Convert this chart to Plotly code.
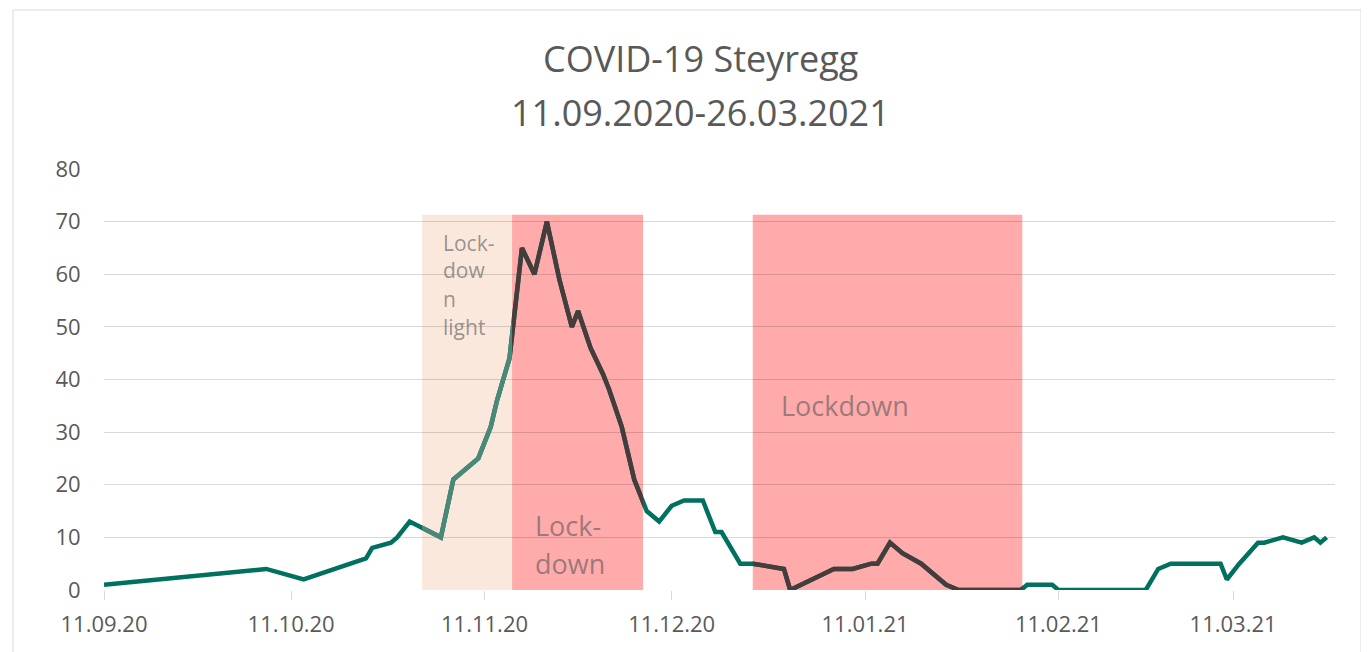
import plotly.graph_objects as go
from datetime import datetime, timedelta

# ---------------- data ----------------
dates = [
    "2020-09-11", "2020-10-07", "2020-10-13", "2020-10-23", "2020-10-24",
    "2020-10-27", "2020-10-28", "2020-10-30", "2020-11-04", "2020-11-06",
    "2020-11-10", "2020-11-12", "2020-11-13", "2020-11-15", "2020-11-17",
    "2020-11-19", "2020-11-21", "2020-11-23", "2020-11-25", "2020-11-26",
    "2020-11-28", "2020-11-30", "2020-12-01", "2020-12-03", "2020-12-05",
    "2020-12-07", "2020-12-09", "2020-12-11", "2020-12-13", "2020-12-16",
    "2020-12-18", "2020-12-19", "2020-12-22", "2020-12-24", "2020-12-29",
    "2020-12-30", "2021-01-06", "2021-01-09", "2021-01-12", "2021-01-13",
    "2021-01-15", "2021-01-17", "2021-01-20", "2021-01-24", "2021-01-26",
    "2021-02-05", "2021-02-06", "2021-02-10", "2021-02-11", "2021-02-25",
    "2021-02-27", "2021-03-01", "2021-03-09", "2021-03-10", "2021-03-12",
    "2021-03-15", "2021-03-16", "2021-03-19", "2021-03-22", "2021-03-24",
    "2021-03-25", "2021-03-26",
]
cases = [
    1, 4, 2, 6, 8,
    9, 10, 13, 10, 21,
    25, 31, 36, 44, 65,
    60, 70, 59, 50, 53,
    46, 41, 38, 31, 21,
    15, 13, 16, 17, 17,
    11, 11, 5, 5, 4,
    0, 4, 4, 5, 5,
    9, 7, 5, 1, 0,
    0, 1, 1, 0, 0,
    4, 5, 5, 2, 5,
    9, 9, 10, 9, 10,
    9, 10,
]

title_lines = ["COVID-19 Steyregg", "11.09.2020-26.03.2021"]
tick_dates = ["2020-09-11", "2020-10-11", "2020-11-11", "2020-12-11",
              "2021-01-11", "2021-02-11", "2021-03-11"]
tick_labels = ["11.09.20", "11.10.20", "11.11.20", "11.12.20",
               "11.01.21", "11.02.21", "11.03.21"]
y_ticks = [0, 10, 20, 30, 40, 50, 60, 70, 80]

light_lockdown = ("2020-11-01 00:00", "2020-11-15 10:00")
lockdowns = [("2020-11-15 10:00", "2020-12-06 10:00"),
             ("2020-12-24 00:00", "2021-02-05 05:00")]
region_top = 71.3

light_label = ["Lock-", "dow", "n", "light"]
lockdown1_label = ["Lock-", "down"]
lockdown2_label = "Lockdown"

# ---------------- styling ----------------
TEAL = "#00705F"
TEAL_LIGHT = "#4A8878"
DARK = "#463C3C"
RED_FILL = "#FFABAB"
PEACH_FILL = "#FBE8DC"
TXT = "#595959"
FONT = "Open Sans"

OFF = 8  # page body margin
W, H = 1369, 652
ML, MT = 104 - OFF, 169 - OFF
PW, PH = 1231, 421
MR, MB = W - ML - PW, H - MT - PH

R0 = datetime(2020, 9, 11)
R1 = R0 + timedelta(days=197.34)


def frac(d):
    d = datetime.fromisoformat(d)
    return (d - R0) / (R1 - R0)


def px_x(px):  # screen pixel -> paper x
    return (px - OFF - ML) / PW


def px_y(py):  # screen pixel -> paper y
    return (MT + PH - (py - OFF)) / PH


fig = go.Figure()

# main line (teal)
fig.add_trace(go.Scatter(x=dates, y=cases, mode="lines",
                         line=dict(color=TEAL, width=4.5),
                         hoverinfo="skip", showlegend=False))

layout_axes = {}
regions = [(light_lockdown, TEAL_LIGHT)] + [(r, DARK) for r in lockdowns]
for i, ((a, b), col) in enumerate(regions, start=2):
    layout_axes[f"xaxis{i}"] = dict(type="date", domain=[frac(a), frac(b)],
                                    range=[a, b], visible=False,
                                    anchor=f"y{i}", fixedrange=True)
    layout_axes[f"yaxis{i}"] = dict(domain=[0, 1], range=[0, 80],
                                    visible=False, anchor=f"x{i}",
                                    fixedrange=True)
    fig.add_trace(go.Scatter(x=dates, y=cases, mode="lines",
                             line=dict(color=col, width=4.5),
                             xaxis=f"x{i}", yaxis=f"y{i}",
                             hoverinfo="skip", showlegend=False))

shapes = []
shapes.append(dict(type="rect", xref="x", yref="y", layer="below",
                   x0=light_lockdown[0], x1=light_lockdown[1], y0=0, y1=region_top,
                   fillcolor=PEACH_FILL, line=dict(width=0)))
for a, b in lockdowns:
    shapes.append(dict(type="rect", xref="x", yref="y", layer="below",
                       x0=a, x1=b, y0=0, y1=region_top,
                       fillcolor=RED_FILL, line=dict(width=0)))
# chart border
shapes.append(dict(type="rect", xref="paper", yref="paper", layer="below",
                   x0=px_x(13), x1=px_x(1361),
                   y0=px_y(720), y1=px_y(10),
                   line=dict(color="#D9D9D9", width=1), fillcolor="rgba(0,0,0,0)"))

annotations = []
# title (two lines)
for txt, py in zip(title_lines, [58, 112]):
    annotations.append(dict(text=txt, xref="paper", yref="paper",
                            x=px_x(700), y=px_y(py),
                            xanchor="center", yanchor="middle", showarrow=False,
                            font=dict(family=FONT, size=36, color=TXT)))

ann_txt = "rgba(89,89,89,0.62)"
for txt, yv in zip(light_label, [65.9, 60.8, 55.3, 50.0]):
    annotations.append(dict(text=txt, xref="x", yref="y",
                            x="2020-11-04 00:00", y=yv, xanchor="left",
                            yanchor="middle", showarrow=False,
                            font=dict(family=FONT, size=21, color=ann_txt)))
for txt, yv in zip(lockdown1_label, [12.2, 5.1]):
    annotations.append(dict(text=txt, xref="x", yref="y",
                            x="2020-11-18 20:00", y=yv, xanchor="left",
                            yanchor="middle", showarrow=False,
                            font=dict(family=FONT, size=27, color=ann_txt)))
annotations.append(dict(text=lockdown2_label, xref="x", yref="y",
                        x="2020-12-28 06:00", y=35.0, xanchor="left",
                        yanchor="middle", showarrow=False,
                        font=dict(family=FONT, size=27, color=ann_txt)))

fig.update_layout(
    width=W, height=H, autosize=False,
    margin=dict(l=ML, r=MR, t=MT, b=MB, pad=0),
    paper_bgcolor="white", plot_bgcolor="rgba(0,0,0,0)",
    showlegend=False,
    font=dict(family=FONT, color=TXT),
    xaxis=dict(type="date", range=[R0, R1], domain=[0, 1],
               tickvals=tick_dates, ticktext=tick_labels,
               ticks="outside", ticklen=9, tickwidth=1, tickcolor="#D9D9D9",
               showgrid=False, zeroline=False, showline=False,
               tickfont=dict(family=FONT, size=22, color=TXT),
               ticklabelstandoff=6, fixedrange=True),
    yaxis=dict(range=[0, 80], tickvals=y_ticks, domain=[0, 1],
               showgrid=True, gridcolor="rgba(0,0,0,0.15)", gridwidth=1,
               zeroline=False, showline=False,
               ticks="outside", ticklen=18, tickcolor="rgba(0,0,0,0)",
               tickfont=dict(family=FONT, size=22, color=TXT),
               fixedrange=True),
    shapes=shapes,
    annotations=annotations,
    **layout_axes,
)

fig.write_html("out.html")
